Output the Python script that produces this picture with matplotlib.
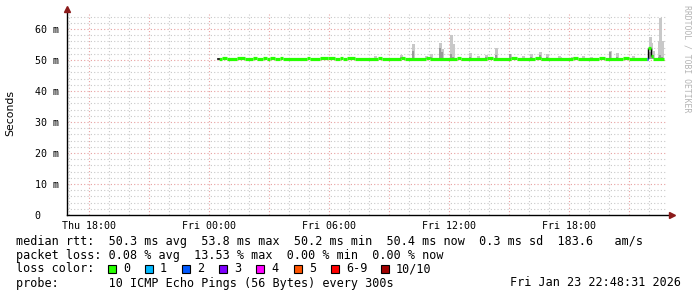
import numpy as np
import matplotlib.pyplot as plt

# hours relative to Fri 00:00, median rtt in ms, loss count (of 10 pings)
med_t = [0.50, 0.65, 0.90, 1.40, 1.80, 2.20, 2.40, 2.70, 2.90, 3.05, 3.30, 3.55, 3.70,
         4.90, 5.05, 5.55, 5.95, 6.30, 6.55, 6.70, 6.90, 7.30, 8.45, 8.65, 9.60, 9.80,
         10.85, 11.05, 12.40, 12.60, 13.90, 14.20, 15.10, 15.40, 16.30, 16.60, 18.20,
         18.45, 19.50, 19.80, 20.70, 21.00, 21.90, 21.95, 22.10, 22.20]
med_v = [50.3, 50.5, 50.3, 50.5, 50.3, 50.5, 50.3, 50.5, 50.3, 50.5, 50.3, 50.5, 50.3,
         50.5, 50.3, 50.5, 50.5, 50.3, 50.5, 50.3, 50.5, 50.3, 50.5, 50.3, 50.5, 50.3,
         50.5, 50.3, 50.5, 50.3, 50.5, 50.3, 50.5, 50.3, 50.5, 50.3, 50.5,
         50.3, 50.5, 50.3, 50.5, 50.3, 50.3, 53.8, 51.2, 50.3]
med_loss = [0] * 42 + [2, 0, 0, 0]
t_end = 22.75

# smoke spikes: hour, max ping (ms), darker core (ms)
sm_t = [8.25, 9.55, 10.15, 10.80, 11.05, 11.50, 11.60, 12.05, 12.15, 13.00, 13.40,
        13.80, 14.30, 15.00, 15.65, 16.05, 16.50, 16.85, 17.45, 17.50, 18.10, 18.65,
        19.05, 20.00, 20.35, 21.15, 22.00, 22.05, 22.15, 22.45, 22.50, 22.60]
sm_top = [51.3, 51.6, 55.0, 51.2, 52.0, 55.5, 53.5, 58.0, 55.0, 52.2, 51.4,
          51.7, 53.8, 52.0, 51.4, 52.0, 52.5, 52.0, 51.3, 51.0, 51.0, 51.2,
          51.0, 53.0, 52.3, 51.2, 57.5, 55.5, 53.0, 56.0, 63.5, 56.0]
sm_dark = [50.8, 51.0, 53.0, 50.8, 51.0, 54.0, 52.5, 52.0, 51.0, 51.0, 50.8,
           51.0, 51.5, 51.8, 50.8, 51.0, 51.5, 51.0, 50.8, 50.8, 50.8, 50.8,
           50.8, 52.5, 51.0, 50.8, 52.5, 52.0, 51.5, 51.0, 51.5, 51.0]

loss_colors = ['#26ff00', '#00b8ff', '#0059ff', '#7e00ff', '#ff00ff', '#ff5500', '#ff0000', '#a10000']
loss_labels = ['0', '1', '2', '3', '4', '5', '6-9', '10/10']

W, H = 697, 297
fig = plt.figure(figsize=(W / 100, H / 100), dpi=100)
ax = fig.add_axes([67 / W, 82 / H, 600 / W, 201.5 / H])
x0, x1 = -7.1, 22.9
ax.set_xlim(x0, x1)
ax.set_ylim(0, 65)

mono = 'DejaVu Sans Mono'

# grid
for h in np.arange(-7, 23, 1):
    major = h % 3 == 0
    ax.axvline(h, color='#e8a0a0' if major else '#c8c8c8', lw=0.8,
               ls=(0, (1, 2)), zorder=0)
for v in np.arange(2, 65, 2):
    major = v % 10 == 0
    ax.axhline(v, color='#e8a0a0' if major else '#c8c8c8', lw=0.8,
               ls=(0, (1, 2)), zorder=0)

# smoke
step = 0.13
base = 50.3
ax.bar(sm_t, np.array(sm_top) - base, bottom=base, width=step, align='edge',
       color='#c8c8c8', lw=0, zorder=2)
ax.bar(sm_t, np.array(sm_dark) - base, bottom=base, width=step * 0.6, align='edge',
       color='#9a9a9a', lw=0, zorder=2)

# median, coloured by loss
ends = med_t[1:] + [t_end]
for i in range(len(med_t)):
    ax.hlines(med_v[i] + 0.15, med_t[i], ends[i], color=loss_colors[med_loss[i]],
              lw=2.3, zorder=4)
    if i > 0 and abs(med_v[i] - med_v[i - 1]) > 1:
        ax.vlines(med_t[i], med_v[i - 1], med_v[i], color='black', lw=1, zorder=3)
ax.plot([med_t[0] - 0.05, med_t[0]], [50.45, 50.45], color='black', lw=1.2, zorder=4)

# axes with arrows
for s in ['top', 'right', 'left', 'bottom']:
    ax.spines[s].set_visible(False)
ax.plot([x0, x0], [0, 66.3], color='black', lw=1, clip_on=False, zorder=5)
ax.plot([x0, x1 + 0.22], [0, 0], color='black', lw=1, clip_on=False, zorder=5)
ax.plot([x0], [66.6], marker='^', color='#8b1a1a', ms=4, clip_on=False, zorder=6)
ax.plot([x1 + 0.25], [0], marker='>', color='#8b1a1a', ms=4, clip_on=False, zorder=6)

xt = [-6, 0, 6, 12, 18]
ax.set_xticks(xt)
ax.set_xticklabels(['Thu 18:00', 'Fri 00:00', 'Fri 06:00', 'Fri 12:00', 'Fri 18:00'],
                   fontfamily=mono, fontsize=7.2)
yt = np.arange(0, 61, 10)
ax.set_yticks(yt)
ax.set_yticklabels(['0   '] + ['%d m' % v for v in yt[1:]], fontfamily=mono, fontsize=7.2)
ax.tick_params(length=0, pad=6)
ax.tick_params(axis='x', pad=4)

fig.text(10 / W, 1 - 113 / H, 'Seconds', rotation=90, ha='center', va='center',
         fontsize=7.8)
fig.text(687 / W, 1 - 5 / H, 'RRDTOOL / TOBI OETIKER', rotation=270, ha='center',
         va='top', fontsize=5.9, fontfamily=mono, color='#b4b4b4')

fs = 8.5
lines = ['median rtt:  50.3 ms avg  53.8 ms max  50.2 ms min  50.4 ms now  0.3 ms sd  183.6   am/s',
         'packet loss: 0.08 % avg  13.53 % max  0.00 % min  0.00 % now',
         'loss color:',
         'probe:       10 ICMP Echo Pings (56 Bytes) every 300s']
for i, s in enumerate(lines):
    fig.text(16 / W, 1 - (241 + 14 * i) / H, s, fontfamily=mono, fontsize=fs,
             ha='left', va='center')
fig.text(681 / W, 1 - 283 / H, 'Fri Jan 23 22:48:31 2026', fontfamily=mono,
         fontsize=fs, ha='right', va='center')

box_x = [108, 145, 182, 219, 256, 294, 331, 381]
for bx, c, lab in zip(box_x, loss_colors, loss_labels):
    fig.patches.append(plt.Rectangle((bx / W, 1 - 273 / H), 8 / W, 8 / H,
                                     transform=fig.transFigure, facecolor=c,
                                     edgecolor='black', lw=0.8))
    fig.text((bx + 15) / W, 1 - 269 / H, lab, fontfamily=mono, fontsize=fs,
             ha='left', va='center')

fig.savefig('out.png', dpi=100, facecolor='white')
